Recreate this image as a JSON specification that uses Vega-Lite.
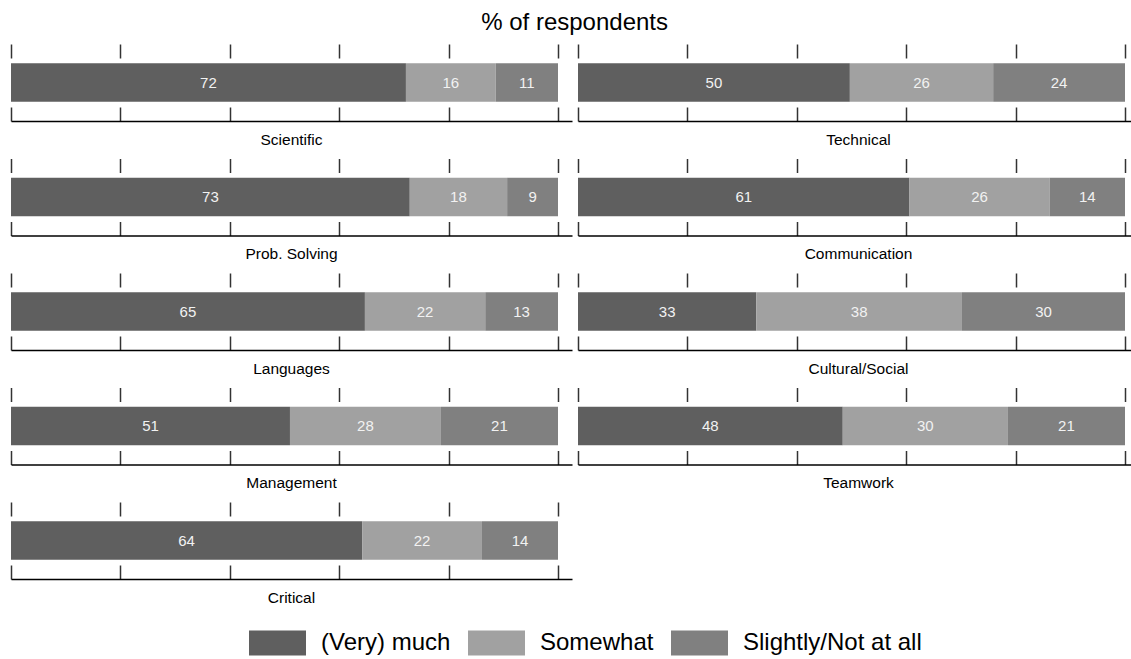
{
  "$schema": "https://vega.github.io/schema/vega-lite/v6.json",
  "padding": {"left": 10, "top": 11, "right": 5, "bottom": 4},
  "title": {"text": "% of respondents", "fontSize": 24, "fontWeight": "normal", "font": "Liberation Sans", "color": "#000", "anchor": "middle", "offset": 8},
  "datasets": {
    "survey": [
      {"Skill": "Scientific", "Response": "(Very) much", "k": 1, "Percent": 72.2},
      {"Skill": "Scientific", "Response": "Somewhat", "k": 2, "Percent": 16.4},
      {"Skill": "Scientific", "Response": "Slightly/Not at all", "k": 3, "Percent": 11.4},
      {"Skill": "Technical", "Response": "(Very) much", "k": 1, "Percent": 49.7},
      {"Skill": "Technical", "Response": "Somewhat", "k": 2, "Percent": 26.2},
      {"Skill": "Technical", "Response": "Slightly/Not at all", "k": 3, "Percent": 24.1},
      {"Skill": "Prob. Solving", "Response": "(Very) much", "k": 1, "Percent": 72.9},
      {"Skill": "Prob. Solving", "Response": "Somewhat", "k": 2, "Percent": 17.8},
      {"Skill": "Prob. Solving", "Response": "Slightly/Not at all", "k": 3, "Percent": 9.3},
      {"Skill": "Communication", "Response": "(Very) much", "k": 1, "Percent": 60.6},
      {"Skill": "Communication", "Response": "Somewhat", "k": 2, "Percent": 25.6},
      {"Skill": "Communication", "Response": "Slightly/Not at all", "k": 3, "Percent": 13.8},
      {"Skill": "Languages", "Response": "(Very) much", "k": 1, "Percent": 64.7},
      {"Skill": "Languages", "Response": "Somewhat", "k": 2, "Percent": 22.0},
      {"Skill": "Languages", "Response": "Slightly/Not at all", "k": 3, "Percent": 13.3},
      {"Skill": "Cultural/Social", "Response": "(Very) much", "k": 1, "Percent": 32.6},
      {"Skill": "Cultural/Social", "Response": "Somewhat", "k": 2, "Percent": 37.6},
      {"Skill": "Cultural/Social", "Response": "Slightly/Not at all", "k": 3, "Percent": 29.8},
      {"Skill": "Management", "Response": "(Very) much", "k": 1, "Percent": 51.0},
      {"Skill": "Management", "Response": "Somewhat", "k": 2, "Percent": 27.6},
      {"Skill": "Management", "Response": "Slightly/Not at all", "k": 3, "Percent": 21.4},
      {"Skill": "Teamwork", "Response": "(Very) much", "k": 1, "Percent": 48.4},
      {"Skill": "Teamwork", "Response": "Somewhat", "k": 2, "Percent": 30.2},
      {"Skill": "Teamwork", "Response": "Slightly/Not at all", "k": 3, "Percent": 21.4},
      {"Skill": "Critical", "Response": "(Very) much", "k": 1, "Percent": 64.2},
      {"Skill": "Critical", "Response": "Somewhat", "k": 2, "Percent": 21.9},
      {"Skill": "Critical", "Response": "Slightly/Not at all", "k": 3, "Percent": 13.9}
    ]
  },
  "data": {"name": "survey"},
  "facet": {
    "field": "Skill",
    "type": "nominal",
    "sort": ["Scientific", "Technical", "Prob. Solving", "Communication", "Languages", "Cultural/Social", "Management", "Teamwork", "Critical"],
    "header": {"title": null, "labelOrient": "bottom", "labelFontSize": 15.5, "labelFont": "Liberation Sans", "labelColor": "#000", "labelPadding": 11}
  },
  "columns": 2,
  "spacing": {"row": 8.5, "column": 5},
  "resolve": {"scale": {"y": "independent"}, "axis": {"x": "independent"}},
  "spec": {
    "width": 561,
    "height": 77,
    "layer": [
      {
        "mark": {"type": "bar"},
        "encoding": {
          "y": {"field": "Skill", "type": "nominal", "axis": null, "scale": {"paddingInner": 0, "paddingOuter": 0.5}},
          "x": {
            "field": "Percent", "type": "quantitative", "stack": "zero",
            "scale": {"domain": [0, 102.56], "nice": false, "zero": true},
            "axis": {"orient": "bottom", "values": [0, 20, 40, 60, 80, 100], "labels": false, "title": null, "grid": false, "tickSize": -14, "tickWidth": 1.5, "tickColor": "#333", "domain": true, "domainColor": "#000", "domainWidth": 1.5}
          },
          "color": {
            "field": "Response", "type": "nominal",
            "scale": {"domain": ["(Very) much", "Somewhat", "Slightly/Not at all"], "range": ["#5f5f5f", "#a1a1a1", "#808080"]},
            "legend": {"title": null, "orient": "none", "legendX": 238, "legendY": 570, "direction": "horizontal", "labelFontSize": 24, "labelFont": "Liberation Sans", "labelColor": "#000", "labelLimit": 0, "symbolType": "M-1,-0.44H1V0.44H-1Z", "symbolSize": 3249, "symbolStrokeWidth": 0, "symbolOpacity": 1, "labelOffset": 15, "columnPadding": 17}
          },
          "order": {"field": "k", "type": "quantitative", "sort": "ascending"}
        }
      },
      {
        "mark": {"type": "text", "color": "#f2f2f2", "fontSize": 15, "font": "Liberation Sans", "baseline": "middle", "align": "center"},
        "encoding": {
          "y": {"field": "Skill", "type": "nominal", "axis": null},
          "x": {
            "field": "Percent", "type": "quantitative", "stack": "zero", "bandPosition": 0.5,
            "axis": {"orient": "top", "values": [0, 20, 40, 60, 80, 100], "labels": false, "title": null, "grid": false, "tickSize": -14, "tickWidth": 1.5, "tickColor": "#333", "domain": false}
          },
          "detail": {"field": "Response", "type": "nominal"},
          "text": {"field": "Percent", "type": "quantitative", "format": ".0f"},
          "order": {"field": "k", "type": "quantitative", "sort": "ascending"}
        }
      }
    ]
  },
  "config": {"view": {"stroke": null}}
}
